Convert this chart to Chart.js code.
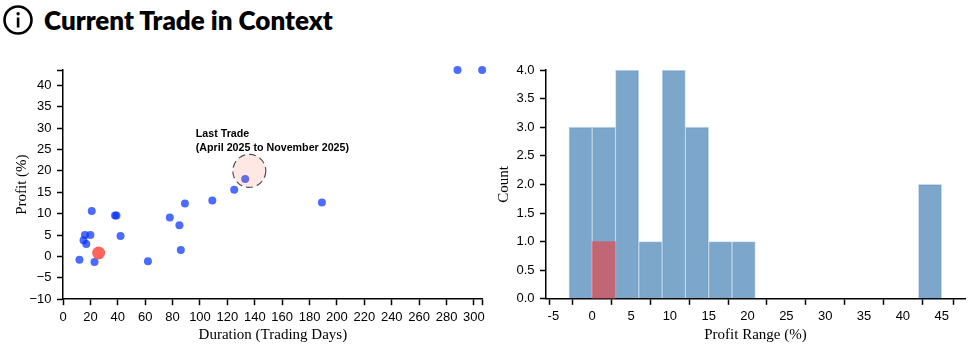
<!DOCTYPE html>
<html>
<head>
<meta charset="utf-8">
<title>Current Trade in Context</title>
<script src="https://cdn.jsdelivr.net/npm/chart.js@4"></script>
<style>
    body { margin: 0; background: #fff; }
    #wrap { position: relative; width: 980px; height: 352px; overflow: hidden; }
    #icon { position: absolute; left: 2px; top: 4px; }
    h1 { position: absolute; left: 44px; top: 4px; margin: 0; font: 800 26px/32px Lato, sans-serif; color: #000; white-space: nowrap; }
    canvas { position: absolute; top: 60px; }
</style>
</head>
<body>
<div id="wrap">
    <svg id="icon" width="32" height="32" viewBox="0 0 32 32">
        <circle cx="16" cy="16" r="13.5" fill="none" stroke="#000" stroke-width="2.6"/>
        <rect x="14.8" y="13.5" width="2.6" height="10" fill="#000"/>
        <circle cx="16.1" cy="9.8" r="1.7" fill="#000"/>
    </svg>
    <h1>Current Trade in Context</h1>
    <canvas id="scatterChart" width="490" height="292" style="left:0"></canvas>
    <canvas id="histChart" width="490" height="292" style="left:490px"></canvas>
</div>
<script>
// Scatter values
const durations = [12, 15, 16, 17, 20, 21, 23, 38, 39, 42, 62, 78, 85, 86, 89, 109, 125, 133, 189, 288, 306];
const profits = [-0.8, 3.8, 5, 2.9, 5, 10.6, -1.3, 9.6, 9.6, 4.8, -1.1, 9.1, 7.3, 1.5, 12.4, 13.1, 15.6, 18.1, 12.6, 43.6, 43.6];
const currentDuration = [26];
const currentProfit = [0.8];
const lastTradeCenter = [136, 20];
const lastTradeLabel = ['Last Trade', '(April 2025 to November 2025)'];
const durationTicks = [0, 20, 40, 60, 80, 100, 120, 140, 160, 180, 200, 220, 240, 260, 280, 300];
const profitTicks = [-10, -5, 0, 5, 10, 15, 20, 25, 30, 35, 40];

// Histogram values
const binCenters = [-1.5, 1.5, 4.5, 7.5, 10.5, 13.5, 16.5, 19.5, 43.5];
const binCounts = [3, 3, 4, 1, 4, 3, 1, 1, 2];
const currentBin = [1.5];
const currentCount = [1];
const rangeTicks = [-5, 0, 5, 10, 15, 20, 25, 30, 35, 40, 45];
const countTicks = [0, 0.5, 1, 1.5, 2, 2.5, 3, 3.5, 4];

const tickFont = { size: 13, family: '"Liberation Sans", Arial, sans-serif' };
const titleFont = { size: 15, family: '"Liberation Serif", "Times New Roman", serif' };

function zip(xs, ys) {
    return xs.map((x, i) => ({ x: x, y: ys[i] }));
}

// Dashed circle and label around the last trade
const lastTradePlugin = {
    id: 'lastTrade',
    afterDatasetsDraw(chart) {
        const ctx = chart.ctx;
        const cx = chart.scales.x.getPixelForValue(lastTradeCenter[0]);
        const cy = chart.scales.y.getPixelForValue(lastTradeCenter[1]);
        ctx.save();
        ctx.beginPath();
        ctx.arc(cx, cy, 16.5, 0, Math.PI * 2);
        ctx.fillStyle = 'rgba(255, 99, 71, 0.15)';
        ctx.fill();
        ctx.setLineDash([7, 4]);
        ctx.strokeStyle = '#555';
        ctx.lineWidth = 1.2;
        ctx.stroke();
        ctx.setLineDash([]);
        ctx.fillStyle = '#000';
        ctx.font = 'bold 10.7px "Liberation Sans", Arial, sans-serif';
        ctx.textAlign = 'left';
        ctx.fillText(lastTradeLabel[0], cx - 53.5, cy - 33.5);
        ctx.fillText(lastTradeLabel[1], cx - 53.5, cy - 20);
        ctx.restore();
    }
};

// Fixed axis size, no extra room for overhanging labels
function fixSize(scale, size) {
    if (scale.isHorizontal()) scale.height = size;
    else scale.width = size;
    scale.paddingTop = scale.paddingBottom = scale.paddingLeft = scale.paddingRight = 0;
}

// Labelled ticks come from the arrays, the axis ends get a bare tick
function axis(labelled, opts) {
    return Object.assign({
        type: 'linear',
        offset: false,
        border: { color: '#000', width: 1.5 },
        grid: { drawOnChartArea: false, tickLength: 6, tickColor: '#000', tickWidth: 1.5 },
        afterBuildTicks(scale) {
            const values = labelled.slice();
            if (!values.includes(scale.min)) values.unshift(scale.min);
            if (!values.includes(scale.max)) values.push(scale.max);
            scale.ticks = values.map(v => ({ value: v }));
        }
    }, opts);
}

const scatterChart = new Chart(document.getElementById('scatterChart'), {
    type: 'scatter',
    data: {
        datasets: [{
            data: zip(currentDuration, currentProfit),
            backgroundColor: 'rgba(255, 60, 50, 0.8)',
            borderWidth: 0,
            pointRadius: 6.5,
            order: 1
        }, {
            data: zip(durations, profits),
            backgroundColor: 'rgba(0, 45, 255, 0.7)',
            borderWidth: 0,
            pointRadius: 4,
            order: 2
        }]
    },
    plugins: [lastTradePlugin],
    options: {
        responsive: false,
        animation: false,
        clip: false,
        layout: { padding: { top: 10, left: 0, right: 7.3, bottom: 0 } },
        plugins: { legend: { display: false }, tooltip: { enabled: false } },
        scales: {
            x: axis(durationTicks, {
                min: 0,
                max: 306.4,
                afterFit(scale) { fixSize(scale, 52.8); },
                ticks: {
                    autoSkip: false,
                    maxRotation: 0,
                    padding: 4,
                    color: '#000',
                    font: tickFont,
                    callback: v => (durationTicks.includes(v) ? v : '')
                },
                title: { display: true, text: 'Duration (Trading Days)', color: '#000', font: titleFont, padding: { top: 0, bottom: 7.6 } }
            }),
            y: axis(profitTicks, {
                min: -10,
                max: 43.6,
                afterFit(scale) { fixSize(scale, 63); },
                ticks: {
                    autoSkip: false,
                    padding: 5.5,
                    color: '#000',
                    font: tickFont,
                    callback: v => (profitTicks.includes(v) ? String(v).replace('-', '\u2212') : '')
                },
                title: { display: true, text: 'Profit (%)', color: '#000', font: titleFont, padding: { top: 12.6, bottom: 0 } }
            })
        }
    }
});

const histChart = new Chart(document.getElementById('histChart'), {
    type: 'bar',
    data: {
        datasets: [{
            data: zip(currentBin, currentCount),
            backgroundColor: 'rgba(240, 60, 60, 0.6)',
            barThickness: 23.3,
            grouped: false,
            order: 1
        }, {
            data: zip(binCenters, binCounts),
            backgroundColor: 'rgba(70, 130, 180, 0.7)',
            borderColor: 'rgba(165, 195, 225, 0.6)',
            borderWidth: 1,
            barThickness: 23.3,
            grouped: false,
            order: 2
        }]
    },
    options: {
        responsive: false,
        animation: false,
        layout: { padding: { top: 10, left: 0, right: 15, bottom: 0 } },
        plugins: { legend: { display: false }, tooltip: { enabled: false } },
        scales: {
            x: axis(rangeTicks, {
                min: -5.95,
                max: 48,
                afterFit(scale) { fixSize(scale, 53.2); },
                ticks: {
                    autoSkip: false,
                    maxRotation: 0,
                    padding: 4,
                    color: '#000',
                    font: tickFont,
                    callback: v => (rangeTicks.includes(v) ? v : '')
                },
                title: { display: true, text: 'Profit Range (%)', color: '#000', font: titleFont, padding: { top: 0, bottom: 7.6 } }
            }),
            y: axis(countTicks, {
                min: 0,
                max: 4,
                afterFit(scale) { fixSize(scale, 56); },
                ticks: {
                    autoSkip: false,
                    padding: 5.5,
                    color: '#000',
                    font: tickFont,
                    callback: v => v.toFixed(1)
                },
                title: { display: true, text: 'Count', color: '#000', font: titleFont, padding: { top: 5, bottom: 0 } }
            })
        }
    }
});
</script>
</body>
</html>
